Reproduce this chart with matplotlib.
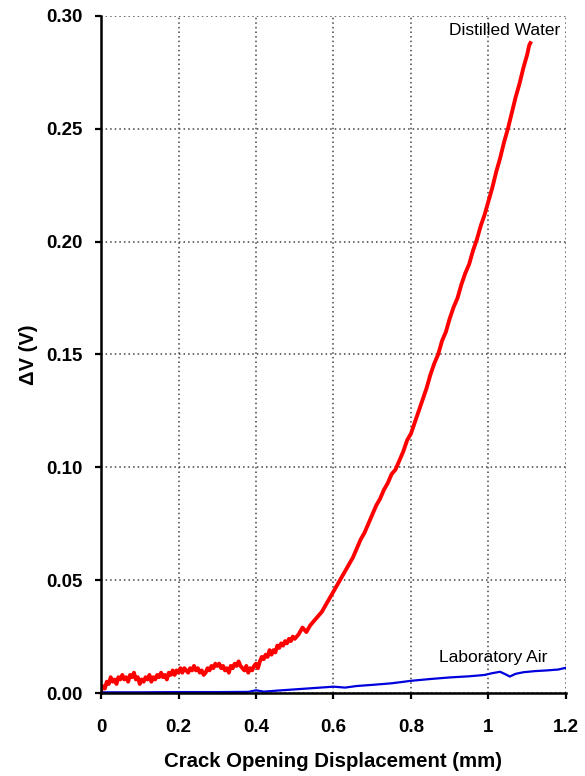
import numpy as np
import matplotlib
matplotlib.use('Agg')
import matplotlib.pyplot as plt

# distilled water signal (mm, V)
water_x_low = np.arange(0, 0.5001, 0.005)
water_y_low = [0.001, 0.003, 0.002, 0.005, 0.004, 0.007, 0.005, 0.006, 0.004, 0.007,
               0.006, 0.008, 0.006, 0.007, 0.005, 0.008, 0.007, 0.009, 0.006, 0.007,
               0.004, 0.006, 0.005, 0.007, 0.006, 0.008, 0.005, 0.007, 0.006, 0.008,
               0.007, 0.009, 0.007, 0.008, 0.006, 0.009, 0.008, 0.010, 0.008, 0.010,
               0.009, 0.011, 0.009, 0.011, 0.010, 0.009, 0.011, 0.010, 0.012, 0.010,
               0.011, 0.009, 0.010, 0.008, 0.009, 0.011, 0.010, 0.012, 0.011, 0.013,
               0.012, 0.013, 0.011, 0.012, 0.010, 0.011, 0.009, 0.012, 0.011, 0.013,
               0.012, 0.014, 0.012, 0.011, 0.010, 0.012, 0.009, 0.011, 0.010, 0.012,
               0.013, 0.011, 0.014, 0.016, 0.015, 0.017, 0.016, 0.019, 0.017, 0.019,
               0.018, 0.021, 0.020, 0.022, 0.021, 0.023, 0.022, 0.024, 0.023, 0.025,
               0.024]
water_x_high = [0.51, 0.52, 0.53, 0.54, 0.55, 0.56, 0.57, 0.58, 0.59, 0.60,
                0.61, 0.62, 0.63, 0.64, 0.65, 0.66, 0.67, 0.68, 0.69, 0.70,
                0.71, 0.72, 0.73, 0.74, 0.75, 0.76, 0.77, 0.78, 0.79, 0.80,
                0.81, 0.82, 0.83, 0.84, 0.85, 0.86, 0.87, 0.88, 0.89, 0.90,
                0.91, 0.92, 0.93, 0.94, 0.95, 0.96, 0.97, 0.98, 0.99, 1.00,
                1.01, 1.02, 1.03, 1.04, 1.05, 1.06, 1.07, 1.08, 1.09, 1.10,
                1.105, 1.108]
water_y_high = [0.026, 0.029, 0.027, 0.030, 0.032, 0.034, 0.036, 0.039, 0.042, 0.045,
                0.048, 0.051, 0.054, 0.057, 0.060, 0.064, 0.068, 0.071, 0.075, 0.079,
                0.083, 0.086, 0.090, 0.093, 0.097, 0.099, 0.103, 0.107, 0.112, 0.115,
                0.120, 0.125, 0.130, 0.135, 0.141, 0.146, 0.150, 0.156, 0.160, 0.166,
                0.171, 0.175, 0.181, 0.186, 0.190, 0.196, 0.201, 0.207, 0.212, 0.218,
                0.224, 0.231, 0.237, 0.244, 0.250, 0.257, 0.264, 0.270, 0.277, 0.283,
                0.287, 0.288]

air_x = [0, 0.1, 0.2, 0.3, 0.38, 0.40, 0.42, 0.45, 0.5, 0.55, 0.6, 0.63, 0.66, 0.7,
         0.75, 0.8, 0.85, 0.9, 0.95, 0.99, 1.01, 1.03, 1.045, 1.055, 1.07, 1.09,
         1.12, 1.15, 1.18, 1.2]
air_y = [0.0003, 0.0003, 0.0004, 0.0004, 0.0005, 0.0012, 0.0006, 0.0010, 0.0016,
         0.0022, 0.0028, 0.0024, 0.0031, 0.0036, 0.0043, 0.0054, 0.0062, 0.0069,
         0.0074, 0.0080, 0.0088, 0.0094, 0.0082, 0.0073, 0.0085, 0.0092, 0.0097,
         0.0100, 0.0104, 0.0112]

x_ticks = [0, 0.2, 0.4, 0.6, 0.8, 1.0, 1.2]
x_labels = ['0', '0.2', '0.4', '0.6', '0.8', '1', '1.2']
y_ticks = [0.00, 0.05, 0.10, 0.15, 0.20, 0.25, 0.30]

plt.rcParams['font.family'] = ['Liberation Sans', 'DejaVu Sans']

fig = plt.figure(figsize=(5.85, 7.76), dpi=100)
ax = fig.add_axes([101 / 585, 1 - 693 / 776, 465 / 585, 677 / 776])

water_x = list(water_x_low) + water_x_high
water_y = water_y_low + water_y_high
ax.plot(water_x, water_y, color='#ff0000', lw=2.8, zorder=3)
ax.plot(air_x, air_y, color='#0000dd', lw=1.6, zorder=3)

ax.set_xlim(0, 1.2)
ax.set_ylim(0, 0.30)
ax.set_xticks(x_ticks)
ax.set_xticklabels(x_labels)
ax.set_yticks(y_ticks)
ax.set_yticklabels(['%.2f' % v for v in y_ticks])

ax.grid(True, linestyle=(0, (1, 2)), color='#444444', lw=1.1)
ax.set_axisbelow(True)
for s in ['top', 'right']:
    ax.spines[s].set_visible(False)
for s in ['left', 'bottom']:
    ax.spines[s].set_linewidth(1.8)
    ax.spines[s].set_zorder(4)

ax.tick_params(axis='both', direction='out', length=4.5, width=1.6, labelsize=13.5)
ax.tick_params(axis='y', pad=9)
ax.tick_params(axis='x', pad=14)
for lab in ax.get_xticklabels() + ax.get_yticklabels():
    lab.set_fontweight('bold')

ax.set_xlabel('Crack Opening Displacement (mm)', fontsize=14.7, fontweight='bold', labelpad=12)
ax.set_ylabel('ΔV (V)', fontsize=14.5, fontweight='bold', labelpad=6)

ax.text(1.185, 0.2935, 'Distilled Water', fontsize=12.5, ha='right', va='center')
ax.text(1.153, 0.0157, 'Laboratory Air', fontsize=12.5, ha='right', va='center')

fig.savefig('out.png', dpi=100)
